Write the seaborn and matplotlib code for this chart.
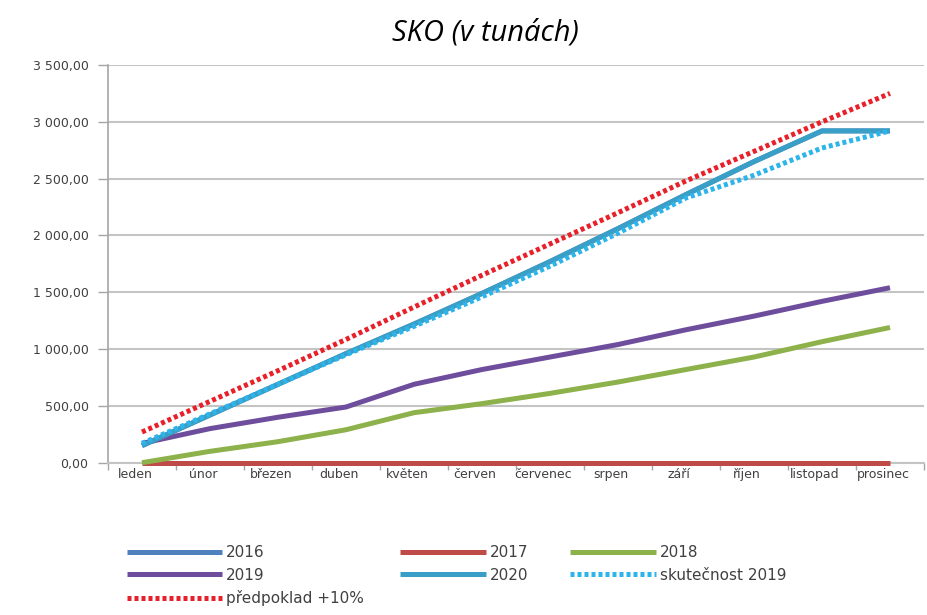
import numpy as np
import pandas as pd
import matplotlib
matplotlib.use("Agg")
import matplotlib.pyplot as plt
import matplotlib.transforms as mtransforms
from matplotlib.ticker import FuncFormatter
import seaborn as sns

# ---- data ----
months = ["leden", "únor", "březen", "duben", "květen", "červen",
          "červenec", "srpen", "září", "říjen", "listopad", "prosinec"]
s2016 = [150, 420, 690, 960, 1220, 1490, 1770, 2060, 2360, 2650, 2920, 2920]
s2017 = [0, 0, 0, 0, 0, 0, 0, 0, 0, 0, 0, 0]
s2018 = [0, 100, 185, 290, 440, 520, 610, 710, 820, 930, 1065, 1190]
s2019 = [170, 300, 400, 490, 690, 820, 930, 1040, 1170, 1290, 1420, 1540]
s2020 = [150, 420, 690, 960, 1220, 1490, 1770, 2060, 2360, 2650, 2920, 2920]
skut2019 = [170, 430, 690, 950, 1200, 1460, 1730, 2020, 2330, 2530, 2770, 2920]
predpoklad = [270, 540, 810, 1085, 1370, 1650, 1925, 2200, 2480, 2740, 3000, 3250]
y_ticks = [0, 500, 1000, 1500, 2000, 2500, 3000, 3500]

series = [
    ("2016", s2016, "#4F81BD", ""),
    ("2017", s2017, "#BE4B48", ""),
    ("2018", s2018, "#8DB14B", ""),
    ("2019", s2019, "#6E4E9C", ""),
    ("2020", s2020, "#3A9FC6", ""),
    ("skutečnost 2019", skut2019, "#2DB4EA", (0.8, 0.6)),
    ("předpoklad +10%", predpoklad, "#E8202A", (0.8, 0.6)),
]

sns.set_theme(style="white")
plt.rcParams["font.family"] = ["DejaVu Sans"]

fig = plt.figure(figsize=(9.28, 6.15), dpi=100)
W, H = 928, 615
left, right, top, bottom = 108, 924, 65, 462.7
ax = fig.add_axes([left / W, 1 - bottom / H, (right - left) / W, (bottom - top) / H])

x = np.arange(len(months))
handles = {}
for i, (name, vals, col, dash) in enumerate(series):
    df = pd.DataFrame({"x": x, "y": vals})
    kw = {}
    if dash:
        kw["dashes"] = dash
    sns.lineplot(data=df, x="x", y="y", ax=ax, color=col, lw=3.6,
                 label=name, legend=False, **kw)
    ln = ax.lines[-1]
    ln.set_solid_capstyle("butt")
    ln.set_dash_capstyle("butt")
    ln.set_clip_on(False)
    ln.set_zorder(3 + i * 0.01)
    handles[name] = ln

ax.set_xlim(-0.5, len(months) - 0.5)
ax.set_ylim(0, 3500)
ax.set_xlabel("")
ax.set_ylabel("")

ax.set_yticks(y_ticks)
ax.yaxis.set_major_formatter(FuncFormatter(
    lambda v, p: f"{v:,.2f}".replace(",", " ").replace(".", ",")))
ax.yaxis.grid(True, color="#C4C4C4", lw=1.5)
ax.xaxis.grid(False)
ax.set_axisbelow(True)

ax.set_xticks(x)
ax.set_xticklabels(months)
ax.set_xticks(np.arange(-0.5, len(months), 1.0), minor=True)
ax.tick_params(axis="x", which="major", length=0, pad=4, labelsize=9, labelcolor="#404040")
ax.tick_params(axis="x", which="minor", length=5, width=1, color="#A6A6A6", direction="out", bottom=True)
ax.tick_params(axis="y", length=7, width=1, color="#A6A6A6", direction="out", left=True,
               labelsize=9, labelcolor="#404040", pad=7)
offset = mtransforms.ScaledTranslation(-7 / 100, 0, fig.dpi_scale_trans)
for lab in ax.get_xticklabels():
    lab.set_transform(lab.get_transform() + offset)

for s in ["top", "right"]:
    ax.spines[s].set_visible(False)
ax.spines["left"].set_color("#A6A6A6")
ax.spines["left"].set_linewidth(1.2)
ax.spines["bottom"].set_color("#C4C4C4")
ax.spines["bottom"].set_linewidth(1.5)

fig.text(485 / W, 1 - 33 / H, "SKO (v tunách)", ha="center", va="center",
         fontsize=21, style="italic", color="#000000",
         family=["Open Sans", "DejaVu Sans"])

legend_cols = [
    (127, 6.2, ["2016", "2019", "předpoklad +10%"]),
    (400, 5.6, ["2017", "2020"]),
    (570, 5.6, ["2018", "skutečnost 2019"]),
]
for xpos, hl, names in legend_cols:
    fig.legend([handles[n] for n in names], names, loc="upper left",
               bbox_to_anchor=(xpos / W, 1 - 545 / H), frameon=False,
               borderpad=0, borderaxespad=0, handlelength=hl,
               handletextpad=0.3, labelspacing=0.5, fontsize=11,
               labelcolor="#404040")

fig.savefig("out.png", dpi=100)
